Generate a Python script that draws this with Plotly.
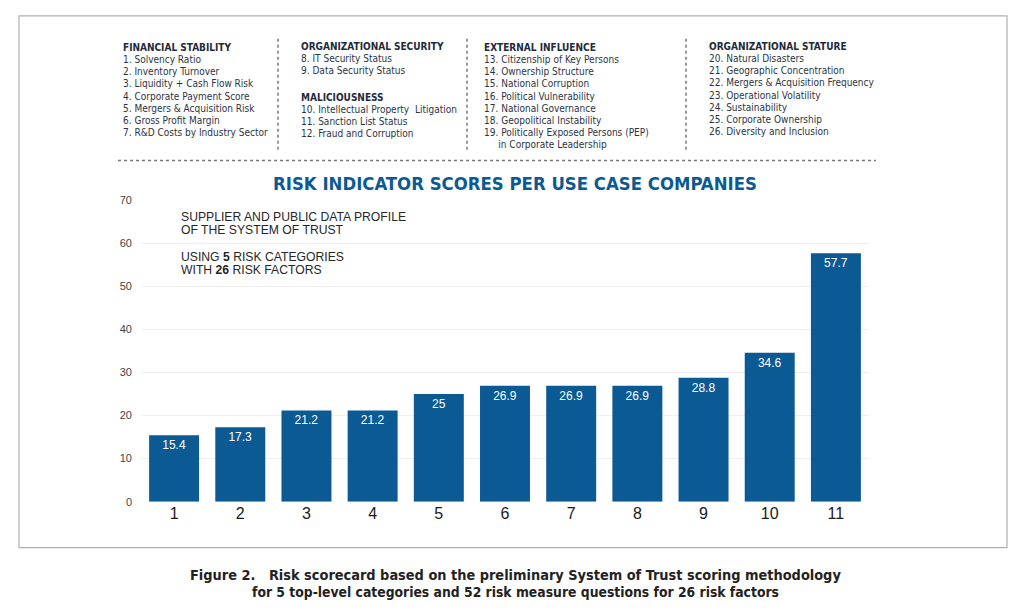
import plotly.graph_objects as go

# page body has an 8px margin, so the figure is drawn 16px smaller and shifted
W, H = 1008, 598
OFF = 8
Y_FIX = 1.018  # small vertical stretch so the rendered page lines up with the reference

companies = [str(i) for i in range(1, 12)]
scores = [15.4, 17.3, 21.2, 21.2, 25, 26.9, 26.9, 26.9, 28.8, 34.6, 57.7]
score_labels = ['15.4', '17.3', '21.2', '21.2', '25', '26.9', '26.9', '26.9', '28.8', '34.6', '57.7']
y_ticks = [0, 10, 20, 30, 40, 50, 60, 70]

financial = ['1. Solvency Ratio', '2. Inventory Turnover', '3. Liquidity + Cash Flow Risk',
             '4. Corporate Payment Score', '5. Mergers & Acquisition Risk',
             '6. Gross Profit Margin', '7. R&D Costs by Industry Sector']
org_security = ['8. IT Security Status', '9. Data Security Status']
malicious = ['10. Intellectual Property  Litigation', '11. Sanction List Status',
             '12. Fraud and Corruption']
external = ['13. Citizenship of Key Persons', '14. Ownership Structure', '15. National Corruption',
            '16. Political Vulnerability', '17. National Governance', '18. Geopolitical Instability',
            '19. Politically Exposed Persons (PEP)', '     in Corporate Leadership']
org_stature = ['20. Natural Disasters', '21. Geographic Concentration',
               '22. Mergers & Acquisition Frequency', '23. Operational Volatility',
               '24. Sustainability', '25. Corporate Ownership', '26. Diversity and Inclusion']

BLUE = '#0b5a93'
DARK = '#1f2a3a'
NARROW = 'DejaVu Sans Condensed, Liberation Sans Narrow, Arial Narrow, sans-serif'
ARIAL = 'Arial, Liberation Sans, sans-serif'


def px_x(x):
    """ reference pixel -> paper fraction """
    return (x - OFF) / W


def px_y(y):
    y = 300 + (y - 300) * Y_FIX
    return 1 - (y - OFF) / H


fig = go.Figure(
    go.Bar(
        x=companies,
        y=scores,
        text=score_labels,
        textposition='inside',
        insidetextanchor='end',
        textfont={'color': 'white', 'size': 12, 'family': ARIAL},
        marker={'color': BLUE, 'line': {'width': 0}},
        hoverinfo='skip',
    )
)

annotations = []


def block(x, y, header, items, step=12.1):
    annotations.append(dict(x=px_x(x), y=px_y(y), text='<b>' + header + '</b>', showarrow=False,
                            xref='paper', yref='paper', xanchor='left', yanchor='middle',
                            font={'family': NARROW, 'size': 10, 'color': DARK}))
    for i, item in enumerate(items):
        annotations.append(dict(x=px_x(x), y=px_y(y + step * (i + 1)), text=item, showarrow=False,
                                xref='paper', yref='paper', xanchor='left', yanchor='middle',
                                font={'family': NARROW, 'size': 10, 'color': '#2b3445'}))


block(121, 47, 'FINANCIAL STABILITY', financial)
block(299, 46, 'ORGANIZATIONAL SECURITY', org_security)
block(299, 97, 'MALICIOUSNESS', malicious)
block(482, 47, 'EXTERNAL INFLUENCE', external)
block(707, 46, 'ORGANIZATIONAL STATURE', org_stature)

annotations.append(dict(x=px_x(515), y=px_y(183), text='<b>RISK INDICATOR SCORES PER USE CASE COMPANIES</b>',
                        showarrow=False, xref='paper', yref='paper', xanchor='center', yanchor='middle',
                        font={'family': NARROW, 'size': 18.4, 'color': BLUE}))

for y, t in [(217, 'SUPPLIER AND PUBLIC DATA PROFILE'), (230, 'OF THE SYSTEM OF TRUST'),
             (257, 'USING <b>5</b> RISK CATEGORIES'), (270, 'WITH <b>26</b> RISK FACTORS')]:
    annotations.append(dict(x=px_x(179), y=px_y(y), text=t, showarrow=False, xref='paper', yref='paper',
                            xanchor='left', yanchor='middle',
                            font={'family': ARIAL, 'size': 12.2, 'color': '#262626'}))

for y, t, s in [(576, '<b>Figure 2.   Risk scorecard based on the preliminary System of Trust scoring methodology</b>', 14.4),
                (593, '<b>for 5 top-level categories and 52 risk measure questions for 26 risk factors</b>', 13.8)]:
    annotations.append(dict(x=px_x(515), y=px_y(y), text=t, showarrow=False, xref='paper', yref='paper',
                            xanchor='center', yanchor='middle',
                            font={'family': NARROW, 'size': s, 'color': '#222'}))

shapes = [
    # outer frame
    dict(type='rect', xref='paper', yref='paper', x0=px_x(19), x1=px_x(1007), y0=px_y(548), y1=px_y(15),
         line={'color': '#b0b0b0', 'width': 1.2}),
    # dotted separator under the legend text
    dict(type='line', xref='paper', yref='paper', x0=px_x(118), x1=px_x(876), y0=px_y(160), y1=px_y(160),
         line={'color': '#777', 'width': 1.5, 'dash': 'dot'}),
]
for x in [278, 467, 686]:
    shapes.append(dict(type='line', xref='paper', yref='paper', x0=px_x(x), x1=px_x(x),
                       y0=px_y(38), y1=px_y(152), line={'color': '#777', 'width': 1.5, 'dash': 'dot'}))

fig.update_layout(
    width=W, height=H,
    margin={'l': 0, 'r': 0, 't': 0, 'b': 0},
    paper_bgcolor='white', plot_bgcolor='white',
    bargap=0.245,
    showlegend=False,
    annotations=annotations,
    shapes=shapes,
    xaxis={'domain': [px_x(141), px_x(869)], 'showgrid': False, 'showline': False, 'ticks': '',
           'tickfont': {'family': ARIAL, 'size': 16, 'color': '#1a1a1a'}},
    yaxis={'domain': [px_y(502), px_y(200)], 'range': [0, 70], 'tickvals': y_ticks,
           'showgrid': True, 'gridcolor': '#efefef', 'zeroline': False, 'showline': False,
           'tickfont': {'family': ARIAL, 'size': 11, 'color': '#444'},
           'ticklabelstandoff': 8},
)

fig.write_html('out.html')
